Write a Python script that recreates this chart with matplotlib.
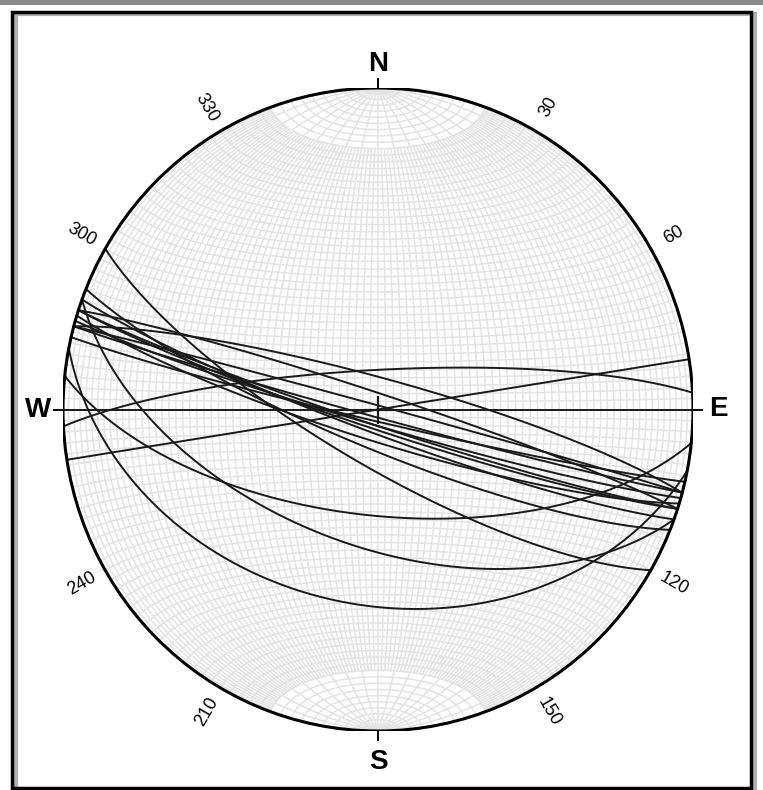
import numpy as np
import matplotlib
matplotlib.use("Agg")
import matplotlib.pyplot as plt
from matplotlib.patches import Rectangle, Ellipse

# planes: dip direction / dip in degrees (lower hemisphere, equal area)
dip_dirs = [0, 351, 357, 15, 210, 186, 191, 200, 195, 196, 198, 200, 193, 15, 197, 202, 18, 198]
dips     = [90, 90, 80, 82, 76, 63, 39, 55, 88, 86, 85, 84, 87, 89, 82, 80, 86, 86]

ring_values = [30, 60, 120, 150, 210, 240, 300, 330]
compass = {"N": 0, "E": 90, "S": 180, "W": 270}


def schmidt(v):
    x, y, z = v
    k = 1.0 / np.sqrt(1.0 - z)
    return x * k, y * k


def great_circle(dd, dip, t0=0.0, t1=np.pi, n=361):
    t = np.linspace(t0, t1, n)
    a = np.radians(dd)
    d = np.radians(dip)
    s = np.array([np.sin(a - np.pi / 2), np.cos(a - np.pi / 2), 0.0])
    dv = np.array([np.sin(a) * np.cos(d), np.cos(a) * np.cos(d), -np.sin(d)])
    v = np.outer(s, np.cos(t)) + np.outer(dv, np.sin(t))
    return schmidt(v)


def small_circle(alpha, n=361):
    phi = np.linspace(0, np.pi, n)
    a = np.radians(alpha)
    v = np.array([np.sin(a) * np.cos(phi),
                  np.full_like(phi, np.cos(a)),
                  -np.sin(a) * np.sin(phi)])
    return schmidt(v)


W, H = 763, 790
fig = plt.figure(figsize=(W / 100, H / 100), dpi=100)

# page frame with shadow
fig.add_artist(Rectangle((0, 1 - 5 / H), 1, 5 / H, transform=fig.transFigure,
                         facecolor="#8a8a8a", edgecolor="none", zorder=10))
fig.add_artist(Rectangle((16 / W, -0.01), 739 / W, (776 + 8) / H, transform=fig.transFigure,
                         facecolor="none", edgecolor="#b0b0b0", lw=3, zorder=10))
fig.add_artist(Rectangle((12 / W, 2 / H), 739 / W, 776 / H, transform=fig.transFigure,
                         facecolor="none", edgecolor="black", lw=2.5, zorder=11))

cx, cy, rx, ry = 378, 409.5, 315, 321.5
ax = fig.add_axes([(cx - rx) / W, (H - cy - ry) / H, 2 * rx / W, 2 * ry / H])
ax.set_xlim(-1, 1)
ax.set_ylim(-1, 1)
ax.axis("off")

grid = dict(color="#e3e3e3", lw=1.1, zorder=1)
# meridians every 2 degrees; near the poles only every 10 degrees
cap = np.radians(20)
for dip in range(2, 90, 2):
    lim = 0 if dip % 10 == 0 else cap
    for dd in (90, 270):
        x, y = great_circle(dd, dip, lim, np.pi - lim)
        ax.plot(x, y, **grid)
ax.plot([0, 0], [-1, 1], **grid)
# small circles about the N-S axis
for alpha in range(2, 180, 2):
    x, y = small_circle(alpha)
    ax.plot(x, y, **grid)

# measured planes
for dd, dip in zip(dip_dirs, dips):
    x, y = great_circle(dd, dip)
    ax.plot(x, y, color="#1a1a1a", lw=1.4, zorder=3)

ax.add_patch(Ellipse((0, 0), 2, 2, facecolor="none", edgecolor="black", lw=2.2, zorder=4))
ax.plot(0, 0, marker="+", ms=20, mew=1.6, color="#1a1a1a", zorder=5)

# compass ticks and letters
for name, az in compass.items():
    a = np.radians(az)
    ax.plot([np.sin(a), 1.027 * np.sin(a)], [np.cos(a), 1.027 * np.cos(a)],
            color="black", lw=1.4, clip_on=False, zorder=4)
    r = {"N": 1.075, "S": 1.097, "E": 1.08, "W": 1.08}[name]
    ax.text(r * np.sin(a), r * np.cos(a), name, ha="center", va="center",
            fontsize=20, fontweight="bold", family="Liberation Sans", clip_on=False)

# azimuth labels, radial
for val in ring_values:
    a = np.radians(val)
    rot = 90 - val
    while rot < -90:
        rot += 180
    while rot > 90:
        rot -= 180
    ax.text(1.085 * np.sin(a), 1.085 * np.cos(a), str(val), ha="center", va="center",
            rotation=rot, rotation_mode="anchor", fontsize=13,
            family="Liberation Sans", clip_on=False)

fig.savefig("out.png", dpi=100)
